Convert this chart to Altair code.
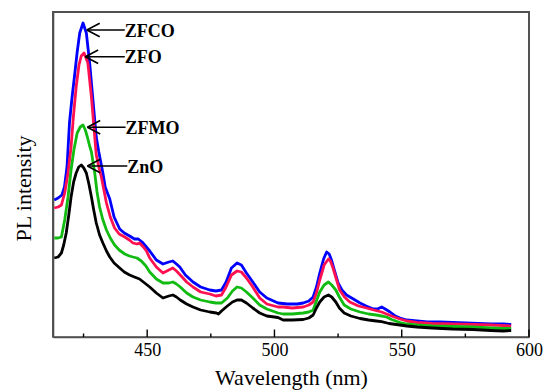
import altair as alt
import pandas as pd

# ---- data (wavelength nm, PL intensity a.u.) ----
zfco_wl = [413.5, 415, 416.5, 417.5, 418.5, 419.5, 420.5, 421.5, 422.5, 423.5, 424.8, 426.1, 427.4, 428.7, 430, 431, 432.6, 433.5, 435.3, 437, 439.2, 441, 443.1, 445, 446.5, 448, 449.7, 451, 453.6, 456.2, 458.5, 460.1, 461.5, 462.8, 465, 468, 471, 474.6, 477, 479.2, 481, 483.1, 485.3, 487, 489, 491.5, 494.2, 497, 501.4, 505, 509, 511.3, 513.5, 515.2, 516.5, 517.8, 519.3, 520.5, 521.5, 522.4, 523.5, 525, 526.5, 528.3, 531, 533.6, 536, 538.8, 540.5, 542.1, 543.5, 545.4, 547.5, 549.3, 552, 556, 560, 565, 570, 575, 580, 585, 590, 593]
zfco_val = [137, 139, 142, 150, 170, 215, 240, 262, 285, 304, 314, 304, 274, 237, 200, 185, 164, 150, 138, 120, 108, 104, 101, 98, 98, 95, 90, 86, 77, 73, 75, 76, 73, 70, 62, 55, 50, 47, 46, 47, 55, 69, 74, 72, 64, 55, 45, 39, 34, 33, 33, 34, 36, 40, 50, 64, 78, 85, 83, 77, 67, 54, 47, 42, 38, 34, 31, 28, 28, 30, 28, 25, 21, 19, 17, 16, 15, 15, 14.5, 14, 13.5, 13, 13, 12.5]

zfo_wl = [413.5, 415, 416.3, 417.6, 418.9, 420.1, 421, 422.1, 423.2, 424.1, 425.2, 426.7, 428.1, 429.4, 430, 431, 432, 434, 435.5, 437.2, 439, 441.2, 443, 444.4, 446, 447, 448.5, 449.7, 451, 453.6, 456.2, 458.5, 460.1, 461.5, 463, 465.5, 468, 471, 474.6, 477, 479.2, 481, 483.1, 485.3, 487, 489, 491.5, 494.2, 497, 501.4, 503.4, 507, 511.3, 513.5, 515.2, 516.5, 517.8, 519.5, 521.2, 522, 523, 524.3, 525.6, 527.5, 529.6, 533, 536.2, 539, 542.1, 544, 546, 549.3, 552, 556, 562, 570, 578, 585, 593]
zfo_val = [129, 130, 132, 144, 164, 190, 220, 250, 272, 281, 284, 274, 240, 200, 182, 170, 160, 134, 120, 109, 103, 100, 97, 94, 93, 94, 90, 86, 79, 70, 64, 67, 69, 66, 62, 55, 50, 45, 43, 41, 42, 50, 62, 66, 65, 59, 50, 39, 33, 30, 30, 29, 30, 32, 35, 44, 57, 72, 78, 76, 69, 58, 47, 40, 35, 31, 29, 27, 25, 23, 21, 18, 16, 14.5, 13.5, 13, 12.5, 12, 11]

zfmo_wl = [413.5, 415, 416.3, 417.6, 418.9, 420.1, 421.2, 422.5, 423.7, 424.8, 425.7, 426.5, 427.4, 428.1, 429.4, 430.3, 431.3, 432.5, 434, 435.5, 437.2, 439, 441.2, 443, 444.4, 446, 447.7, 449.5, 451, 453.6, 456.2, 458.5, 460.1, 461.5, 463, 465.5, 468, 471, 474.6, 477, 479.2, 481.5, 483.5, 485.3, 487, 489, 491.5, 494.2, 497, 501.4, 503.4, 507, 511.3, 513.5, 515.2, 516.5, 517.8, 519.5, 521.2, 522.5, 524.1, 525.5, 527.4, 530, 533.6, 537, 540, 542.1, 544, 546, 549.3, 552, 556, 562, 570, 578, 585, 590, 593]
zfmo_val = [99, 99, 100, 117, 140, 167, 187, 204, 210, 212, 207, 200, 191, 185, 164, 145, 130, 118, 107, 99, 92, 87, 83, 81, 80, 79, 76, 71, 65, 58, 54, 54, 55, 53, 50, 44, 40, 37, 35, 34, 34, 39, 46, 50, 49, 45, 39, 32, 28, 24, 23, 23, 24, 25, 27, 36, 45, 52, 55, 52, 47, 40, 32, 28, 25, 23, 22, 21, 20, 17.5, 14.5, 13, 12, 11, 10.5, 10, 9, 8.5, 8.5]

zno_wl = [413.5, 415, 416.3, 417.2, 418.2, 419.2, 420.1, 421.1, 422.1, 423.1, 424.1, 425.1, 426.1, 427.1, 428.1, 429, 430, 431.3, 432.6, 434, 435.3, 437, 439.2, 441, 443.1, 445, 447, 449, 451, 453.6, 456.2, 458.5, 460.1, 461.5, 463, 465.5, 468, 471, 474.6, 477.2, 478, 479.2, 481.5, 483.5, 485.3, 487, 489, 491.5, 494.2, 497, 501.4, 503.4, 507, 511.3, 513.5, 515.2, 516.5, 517.8, 519.5, 521.2, 522.5, 524.1, 525.5, 527.4, 530, 533.6, 537, 540, 542.1, 545, 549.3, 552, 556, 562, 570, 578, 585, 590, 593]
zno_val = [79, 80, 84, 92, 104, 122, 140, 155, 164, 170, 172, 169, 164, 153, 140, 127, 114, 102, 94, 86, 80, 74, 69, 65, 62, 60, 58, 54, 50, 44, 39, 41, 42, 40, 37, 33, 30, 27, 25, 24, 23, 26, 31, 35, 37, 37, 34, 29, 24, 21, 19.5, 17, 17, 17.5, 19, 22, 29, 35, 40, 42, 40, 35, 29, 24, 21, 18.5, 17, 16, 15.3, 13.5, 12, 11, 10, 9, 8, 7.5, 6.5, 6, 6.5]

series_names = ["ZFCO", "ZFO", "ZFMO", "ZnO"]
series_colors = ["#0000ff", "#ff1050", "#12bb12", "#000000"]

# annotations: arrow tip (wavelength, intensity) and label start wavelength
label_names = ["ZFCO", "ZFO", "ZFMO", "ZnO"]
tip_wl = [426.3, 425.7, 426.5, 426.5]
tip_val = [307, 280.3, 209.7, 171]
label_wl = [441.2, 441.2, 441.5, 442.2]

major_ticks = [450, 500, 550, 600]
minor_ticks = [425, 475, 525, 575]

X_MIN, X_MAX = 413, 600
Y_MIN, Y_MAX = 0, 325

# ---- build tables ----
rows = []
for name, wl, val in [("ZFCO", zfco_wl, zfco_val), ("ZFO", zfo_wl, zfo_val),
                      ("ZFMO", zfmo_wl, zfmo_val), ("ZnO", zno_wl, zno_val)]:
    for i, (w, v) in enumerate(zip(wl, val)):
        rows.append({"series": name, "wl": w, "val": v, "order": i})
df = pd.DataFrame(rows)
ann = pd.DataFrame({"name": label_names, "tip": tip_wl, "val": tip_val, "lab": label_wl})

# frame path along the plot-area edges (left, top, right), as a polyline
frame_df = pd.DataFrame({
    "fx": [X_MIN, X_MIN, X_MAX, X_MAX],
    "fy": [Y_MIN, Y_MAX, Y_MAX, Y_MIN],
    "k": [0, 1, 2, 3],
})
major_df = pd.DataFrame({"t": major_ticks, "y": [Y_MIN] * 4})
minor_df = pd.DataFrame({"t": minor_ticks, "y": [Y_MIN] * 4})

FONT = "Liberation Serif"
W, H = 476, 325
xscale = alt.Scale(domain=[X_MIN, X_MAX], nice=False, zero=False)
yscale = alt.Scale(domain=[Y_MIN, Y_MAX], nice=False, zero=False)

lines = alt.Chart(df).mark_line(strokeWidth=2.8, strokeJoin="round").encode(
    x=alt.X("wl:Q", scale=xscale, axis=alt.Axis(
        title="Wavelength (nm)", values=major_ticks, format="d", ticks=False,
        grid=False, domainColor="#505050", domainWidth=1.6,
        labelFont=FONT, labelFontSize=18, labelColor="black", labelPadding=4,
        labelFlush=False,
        titleFont=FONT, titleFontSize=22, titleFontWeight="normal", titleColor="black",
        titleBaseline="alphabetic", titleY=47.5)),
    y=alt.Y("val:Q", scale=yscale, axis=alt.Axis(
        title="PL intensity", labels=False, ticks=False, grid=False,
        domain=True, domainColor="#505050", domainWidth=1.6,
        titleFont=FONT, titleFontSize=22, titleFontWeight="normal", titleColor="black",
        titleAngle=270, titleAlign="center", titleBaseline="alphabetic",
        titleX=-23, titleY=176)),
    color=alt.Color("series:N", scale=alt.Scale(domain=series_names, range=series_colors), legend=None),
    order=alt.Order("order:Q"),
    detail="series:N",
)

frame = alt.Chart(frame_df).mark_line(color="#505050", strokeWidth=1.8).encode(
    x=alt.X("fx:Q", scale=xscale), y=alt.Y("fy:Q", scale=yscale), order="k:Q")

# inward tick marks drawn as short vertical stroked symbols sitting on the x axis
major_tk = alt.Chart(major_df).mark_point(
    shape="M0,0L0,-2", size=56, filled=False, color="black", strokeWidth=1.4, opacity=1).encode(
    x=alt.X("t:Q", scale=xscale), y=alt.Y("y:Q", scale=yscale))
minor_tk = alt.Chart(minor_df).mark_point(
    shape="M0,0L0,-2", size=12, filled=False, color="black", strokeWidth=1.4, opacity=1).encode(
    x=alt.X("t:Q", scale=xscale), y=alt.Y("y:Q", scale=yscale))

shafts = alt.Chart(ann).mark_rule(color="black", strokeWidth=1.6).encode(
    x=alt.X("tip:Q", scale=xscale), x2="lab:Q", y=alt.Y("val:Q", scale=yscale))
heads = alt.Chart(ann).mark_point(
    shape="M0,0L2,-1.05M0,0L2,1.05", size=165, filled=False, color="black",
    strokeWidth=1.6, opacity=1).encode(
    x=alt.X("tip:Q", scale=xscale), y=alt.Y("val:Q", scale=yscale))
labels = alt.Chart(ann).mark_text(
    align="left", baseline="middle", font=FONT, fontSize=18, fontWeight="bold",
    color="black", dy=1.5).encode(
    x=alt.X("lab:Q", scale=xscale), y=alt.Y("val:Q", scale=yscale), text="name:N")

chart = alt.layer(lines, frame, major_tk, minor_tk, shafts, heads, labels).properties(
    width=W, height=H,
    padding={"left": 53, "top": 12, "right": 20, "bottom": 55},
    autosize=alt.AutoSizeParams(type="none"),
).configure(
    background="white",
    view=alt.ViewConfig(stroke="#505050", strokeWidth=1.5),
)

chart.save("out.html", embed_options={"renderer": "svg", "actions": False})
